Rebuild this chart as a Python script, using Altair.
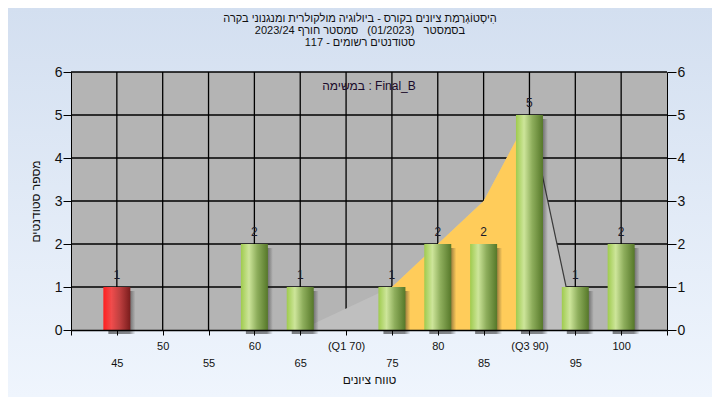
import altair as alt
import pandas as pd

# ---------------- data ----------------
NB = "\u00a0"
TITLE_LINES = [
    "הִיסְטוֹגְרַמַת ציונים בקורס - ביולוגיה מולקולרית ומנגנוני בקרה",
    "בסמסטר" + NB + NB + " (01/2023)" + NB + NB + " סמסטר חורף 2023/24",
    "סטודנטים רשומים - 117",
]
TASK_LABEL = "במשימה : Final_B"
X_TITLE = "טווח ציונים"
Y_TITLE = "מספר סטודנטים"

scores = [45, 60, 65, 75, 80, 85, 90, 95, 100]
counts = [1, 2, 1, 1, 2, 2, 5, 1, 2]
fail_scores = [45]

curve_x = [45, 50, 55, 60, 65, 70, 75, 80, 85, 90, 95, 100]
curve_y = [0, 0, 0, 0, 0, 0.5, 1, 2, 3, 5, 0, 0]
iqr_x = [75, 80, 85, 90]
iqr_y = [1, 2, 3, 5]
drop_x = [90, 95]
drop_y = [5, 0]

x_ticks = [40, 45, 50, 55, 60, 65, 70, 75, 80, 85, 90, 95, 100, 105]
x_tick_labels = ["", "45", "50", "55", "60", "65", "(Q1 70)", "75", "80",
                 "85", "(Q3 90)", "95", "100", ""]
x_label_row = [0, 1, 0, 1, 0, 1, 0, 1, 0, 1, 0, 1, 0, 0]
y_ticks = [0, 1, 2, 3, 4, 5, 6]
x_grid = [45, 50, 55, 60, 65, 70, 75, 80, 85, 90, 95, 100]
y_grid = [1, 2, 3, 4, 5, 6]

FONT = "Liberation Sans"
W, H = 596, 258
PAD = {"left": 63, "top": 64, "right": 45, "bottom": 67}

bars = pd.DataFrame({"score": scores, "count": counts})
bars["fail"] = bars["score"].isin(fail_scores)
green = bars[~bars["fail"]]
red = bars[bars["fail"]]
curve = pd.DataFrame({"x": curve_x, "y": curve_y})
iqr = pd.DataFrame({"x": iqr_x, "y": iqr_y})
drop = pd.DataFrame({"x": drop_x, "y": drop_y})
gx = pd.DataFrame({"gx": x_grid})
gy = pd.DataFrame({"gy": y_grid})
one = pd.DataFrame({"a": [0]})

xs = alt.Scale(domain=[40, 105], nice=False, zero=False, padding=0)
ys = alt.Scale(domain=[0, 6], nice=False, zero=True, padding=0)


def X(f, axis=None):
    return alt.X(f, type="quantitative", scale=xs, axis=axis)


def Y(f, axis=None):
    return alt.Y(f, type="quantitative", scale=ys, axis=axis)


# label expression: two rows of labels
parts = []
for v, lab, row in zip(x_ticks, x_tick_labels, x_label_row):
    if lab == "":
        arr = "''"
    elif row == 0:
        arr = "['%s', '']" % lab
    else:
        arr = "['', '%s']" % lab
    parts.append("datum.value == %s ? %s : " % (v, arr))
label_expr = "".join(parts) + "''"


def grad(stops, vertical=False):
    return alt.LinearGradient(
        gradient="linear",
        stops=[alt.GradientStop(color=c, offset=o) for o, c in stops],
        x1=0, x2=0 if vertical else 1, y1=0, y2=1 if vertical else 0,
    )


bg = alt.Chart(one).mark_rect(
    clip=False,
    color=grad([(0, "#d3dff0"), (1, "#eff5fd")], vertical=True),
).encode(
    x=alt.value(-PAD["left"]), x2=alt.value(W + PAD["right"]),
    y=alt.value(-PAD["top"]), y2=alt.value(H + PAD["bottom"]),
)

plot_bg = alt.Chart(one).mark_rect(color="#b4b4b4").encode(
    x=X("datum_x0:Q"), x2=alt.X2("datum_x1:Q"),
    y=Y("datum_y0:Q"), y2=alt.Y2("datum_y1:Q"),
).transform_calculate(datum_x0="40", datum_x1="105", datum_y0="0", datum_y1="6")

vgrid = alt.Chart(gx).mark_rule(color="black", strokeWidth=1.3).encode(x=X("gx:Q"))
hgrid = alt.Chart(gy).mark_rule(color="black", strokeWidth=1.3).encode(
    y=Y("gy:Q", axis=alt.Axis(
        orient="right", values=y_ticks, tickSize=9, tickColor="black",
        domainColor="black", labelFontSize=14, labelPadding=1, labelColor="#111",
        labelFont=FONT, grid=False, title=None, zindex=1,
    ))
)

area = alt.Chart(curve).mark_area(color="#bfbfbf", opacity=1).encode(
    x=X("x:Q"), y=Y("y:Q"))
iqr_area = alt.Chart(iqr).mark_area(color="#ffcc5a", opacity=1).encode(
    x=X("x:Q"), y=Y("y:Q"))
drop_line = alt.Chart(drop).mark_line(color="#3a3a3a", strokeWidth=1.2).encode(
    x=X("x:Q"), y=Y("y:Q"))

shadow = alt.Chart(bars).mark_bar(
    size=27, xOffset=5, yOffset=4, clip=False,
    color=grad([(0, "rgba(30,30,30,0.55)"), (0.78, "rgba(30,30,30,0.5)"),
                (1, "rgba(30,30,30,0)")]),
).encode(x=X("score:Q"), y=Y("count:Q"))

green_bars = alt.Chart(green).mark_bar(
    size=27,
    color=grad([(0, "#9fcb4e"), (0.3, "#cde59a"), (0.6, "#8eae5c"), (1, "#567829")]),
).encode(
    x=X("score:Q", axis=alt.Axis(
        values=x_ticks, labelExpr=label_expr, tickSize=5, tickColor="black",
        domainColor="black", domainWidth=1.3, labelFontSize=11, labelLineHeight=17,
        labelPadding=5, labelOverlap=False, labelFlush=False, labelBound=False,
        labelColor="#111", labelFont=FONT, grid=False,
        title=X_TITLE, titleFont=FONT, titleFontSize=12, titleFontWeight="normal",
        titleColor="#111", titlePadding=6, zindex=1,
    )),
    y=Y("count:Q", axis=alt.Axis(
        orient="left", values=y_ticks, tickSize=8, tickColor="black",
        domainColor="black", labelFontSize=14, labelPadding=1, labelColor="#111",
        labelFont=FONT, grid=False, title=Y_TITLE, titleFont=FONT,
        titleFontSize=12, titleFontWeight="normal", titleColor="#111",
        titlePadding=12, zindex=1,
    )),
)

red_bars = alt.Chart(red).mark_bar(
    size=27,
    color=grad([(0, "#ff2020"), (0.3, "#f04c4c"), (0.6, "#c04040"), (1, "#7a1c1c")]),
).encode(x=X("score:Q"), y=Y("count:Q"))

value_labels = alt.Chart(bars).mark_text(
    baseline="alphabetic", dy=-8, fontSize=12, font=FONT, color="#1a1a2a",
).encode(x=X("score:Q"), y=Y("count:Q"), text=alt.Text("count:Q"))

task = alt.Chart(one).mark_text(
    fontSize=12, font=FONT, color="#1a0a2a", baseline="middle", align="center",
).encode(x=alt.value(W / 2), y=alt.value(14), text=alt.value(TASK_LABEL))

title = alt.Chart(one).mark_text(
    fontSize=11, font=FONT, color="#111", baseline="top", align="center",
    lineHeight=12, clip=False,
).encode(x=alt.value(289), y=alt.value(-59), text=alt.value(TITLE_LINES))

chart = alt.layer(
    bg, plot_bg, vgrid, hgrid, area, iqr_area, drop_line, shadow,
    green_bars, red_bars, value_labels, task, title,
).resolve_axis(y="independent", x="independent").properties(
    width=W, height=H,
    autosize=alt.AutoSizeParams(type="none"),
    padding=PAD,
    background="#e2eaf6",
).configure_view(stroke=None)

chart.save("out.html", embed_options={"renderer": "svg", "actions": False})
